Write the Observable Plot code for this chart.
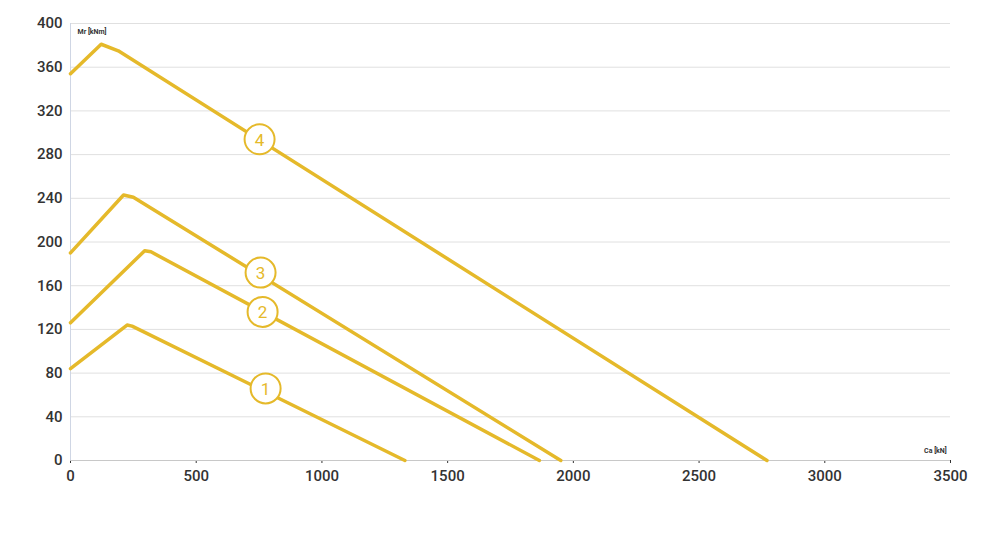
<!DOCTYPE html>
<html><head><meta charset="utf-8">
<script src="https://cdn.jsdelivr.net/npm/d3@7"></script>
<script src="https://cdn.jsdelivr.net/npm/@observablehq/plot@0.6"></script>
<style>
body{margin:0;background:#fff;}
</style>
</head><body><div id="chart"></div>
<script>
const curve1 = [[0,84],[225,124],[245,123],[1330,0]];
const curve2 = [[0,126],[295,192],[320,191],[1865,0]];
const curve3 = [[0,190],[211,243],[250,241],[1950,0]];
const curve4 = [[0,354],[122,381],[190,375],[2770,0]];
const curveNames = ["1","2","3","4"];
const labelX = [776,764,756,752];
const labelY = [66,136,172,294];
const xTicks = [0,500,1000,1500,2000,2500,3000,3500];
const yTicks = [0,40,80,120,160,200,240,280,320,360,400];

const curves = [curve1,curve2,curve3,curve4];
const lineData = curves.flatMap((c,i)=>c.map(([x,y])=>({x,y,s:curveNames[i]})));
const labels = curveNames.map((n,i)=>({x:labelX[i],y:labelY[i],n}));
const gold = "#e5b92a";

const plot = Plot.plot({
  width:989, height:543,
  marginLeft:70, marginRight:39, marginTop:23, marginBottom:83,
  style:{fontFamily:"Roboto, 'DejaVu Sans', sans-serif", fontSize:"15px", fontWeight:"500", color:"#333"},
  x:{domain:[0,3500], ticks:xTicks, tickFormat:d=>String(d), label:null, tickSize:3, tickPadding:7},
  y:{domain:[0,400], ticks:yTicks, tickFormat:d=>String(d), label:null, tickSize:0, tickPadding:8},
  marks:[
    Plot.gridY(yTicks.filter(d=>d>0),{stroke:"#e0e0e0", strokeOpacity:1, strokeWidth:1, x1:0, x2:3500}),
    Plot.ruleX([0],{stroke:"#cfd6e4"}),
    Plot.ruleY([0],{stroke:"#c8c8c8"}),
    Plot.line(lineData,{x:"x",y:"y",z:"s",stroke:gold,strokeWidth:3.5,strokeLinejoin:"round"}),
    Plot.dot(labels,{x:"x",y:"y",r:15,fill:"white",stroke:gold,strokeWidth:2}),
    Plot.text(labels,{x:"x",y:"y",text:"n",fill:gold,fontSize:17,fontWeight:"400",dy:1}),
    Plot.text(["Mr [kNm]"],{frameAnchor:"top-left",dx:7,dy:6,fontSize:7,fontWeight:"bold",fill:"#333"}),
    Plot.text(["Ca [kN]"],{x:3440,y:0,dy:-10,fontSize:7,fontWeight:"bold",fill:"#333",textAnchor:"middle"})
  ]
});
document.getElementById("chart").appendChild(plot);
</script>
</body></html>
